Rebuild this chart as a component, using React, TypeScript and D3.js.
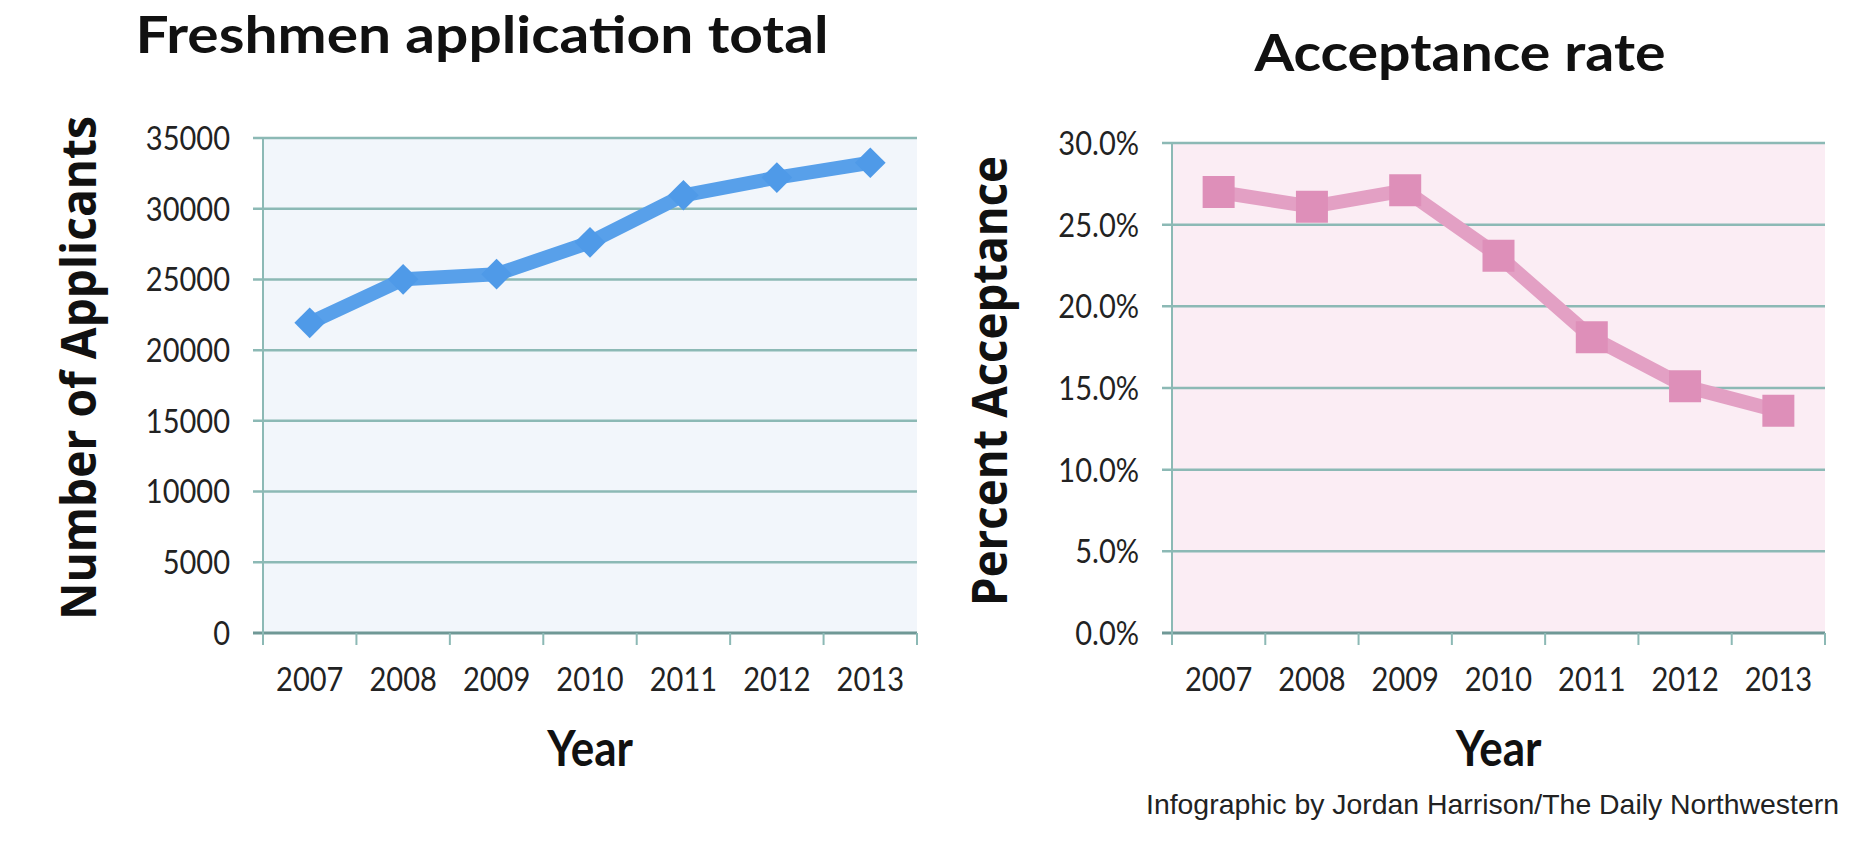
import React from 'react';
import { scaleBand, scaleLinear, line, symbol, symbolDiamond2, symbolSquare } from 'd3';

const years = ['2007', '2008', '2009', '2010', '2011', '2012', '2013'];
const applicants = [21930, 25010, 25370, 27620, 30950, 32200, 33250];
const acceptance = [27.0, 26.1, 27.1, 23.1, 18.1, 15.1, 13.6];
const applicantTicks = [0, 5000, 10000, 15000, 20000, 25000, 30000, 35000];
const acceptanceTicks = [0, 5, 10, 15, 20, 25, 30];

// Calibri-ish look: Lato squeezed a little in x
const SQ = 0.88;

type PanelProps = {
  left: number;
  right: number;
  top: number;
  bottom: number;
  values: number[];
  ticks: number[];
  format: (v: number) => string;
  tickLabelX: number;
  bg: string;
  lineColor: string;
  markerColor: string;
  marker: 'diamond' | 'square';
  title: string;
  titleX: number;
  titleY: number;
  titleLen: number;
  yTitle: string;
  yTitleX: number;
  yTitleY: number;
  yTitleLen: number;
};

const Panel: React.FC<PanelProps> = p => {
  const x = scaleBand<string>().domain(years).range([p.left, p.right]).padding(0);
  const y = scaleLinear()
    .domain([0, p.ticks[p.ticks.length - 1]])
    .range([p.bottom, p.top]);
  const cx = (d: string) => (x(d) as number) + x.bandwidth() / 2;

  const path = line<number>()
    .x((_, i) => cx(years[i]))
    .y(v => y(v));

  const shape =
    p.marker === 'diamond'
      ? symbol().type(symbolDiamond2).size(600)()
      : symbol().type(symbolSquare).size(1024)();

  const bandEdges = [...years.map(d => x(d) as number), p.right];

  return (
    <g>
      <text
        x={p.titleX}
        y={p.titleY}
        textAnchor="middle"
        fontFamily="Lato"
        fontWeight="bold"
        fontSize={51}
        fill="#111"
        textLength={p.titleLen}
        lengthAdjust="spacingAndGlyphs"
      >
        {p.title}
      </text>

      <rect x={p.left} y={p.top} width={p.right - p.left} height={p.bottom - p.top} fill={p.bg} />

      {p.ticks.map(t => (
        <g key={t}>
          <line
            x1={p.left - 10}
            x2={p.right}
            y1={y(t)}
            y2={y(t)}
            stroke={t === 0 ? '#6f9896' : '#8cb9b5'}
            strokeWidth={t === 0 ? 3 : 2.5}
          />
          <text
            transform={`translate(${p.tickLabelX},${y(t)}) scale(${SQ},1)`}
            dy="0.36em"
            textAnchor="end"
            fontFamily="Lato"
            fontSize={33}
            fill="#222"
          >
            {p.format(t)}
          </text>
        </g>
      ))}

      <line x1={p.left} x2={p.left} y1={p.top} y2={p.bottom + 12} stroke="#8cb9b5" strokeWidth={2} />
      {bandEdges.map((bx, i) => (
        <line key={i} x1={bx} x2={bx} y1={p.bottom} y2={p.bottom + 12} stroke="#8cb9b5" strokeWidth={2} />
      ))}

      {years.map(d => (
        <text
          key={d}
          transform={`translate(${cx(d)},691) scale(${SQ},1)`}
          textAnchor="middle"
          fontFamily="Lato"
          fontSize={33}
          fill="#222"
        >
          {d}
        </text>
      ))}

      <text
        transform={`translate(${(p.left + p.right) / 2},766) scale(${SQ},1)`}
        textAnchor="middle"
        fontFamily="Lato"
        fontWeight="bold"
        fontSize={50}
        fill="#111"
      >
        Year
      </text>

      <text
        transform={`translate(${p.yTitleX},${p.yTitleY}) rotate(-90)`}
        textAnchor="middle"
        fontFamily="Open Sans"
        fontWeight="bold"
        fontSize={48}
        fill="#111"
        textLength={p.yTitleLen}
        lengthAdjust="spacingAndGlyphs"
      >
        {p.yTitle}
      </text>

      <path
        d={path(p.values) || ''}
        fill="none"
        stroke={p.lineColor}
        strokeWidth={14}
        strokeLinejoin="round"
      />
      {p.values.map((v, i) => (
        <path key={i} d={shape || ''} transform={`translate(${cx(years[i])},${y(v)})`} fill={p.markerColor} />
      ))}
    </g>
  );
};

export default function App() {
  return (
    <svg
      width={1871}
      height={865}
      style={{ position: 'absolute', left: 0, top: 0, background: '#fff' }}
    >
      <Panel
        left={263}
        right={917}
        top={138}
        bottom={633}
        values={applicants}
        ticks={applicantTicks}
        format={v => String(v)}
        tickLabelX={230}
        bg="#f2f6fb"
        lineColor="#58a0ea"
        markerColor="#4f9ae8"
        marker="diamond"
        title="Freshmen application total"
        titleX={482}
        titleY={53}
        titleLen={693}
        yTitle="Number of Applicants"
        yTitleX={96}
        yTitleY={368}
        yTitleLen={504}
      />
      <Panel
        left={1172}
        right={1825}
        top={143}
        bottom={633}
        values={acceptance}
        ticks={acceptanceTicks}
        format={v => v.toFixed(1) + '%'}
        tickLabelX={1139}
        bg="#fbedf4"
        lineColor="#e3a0c4"
        markerColor="#de8fb9"
        marker="square"
        title="Acceptance rate"
        titleX={1460}
        titleY={71}
        titleLen={411}
        yTitle="Percent Acceptance"
        yTitleX={1007}
        yTitleY={381}
        yTitleLen={450}
      />
      <text
        x={1146}
        y={814}
        fontFamily="Liberation Sans"
        fontSize={28}
        fill="#222"
        textLength={693}
        lengthAdjust="spacingAndGlyphs"
      >
        Infographic by Jordan Harrison/The Daily Northwestern
      </text>
    </svg>
  );
}
